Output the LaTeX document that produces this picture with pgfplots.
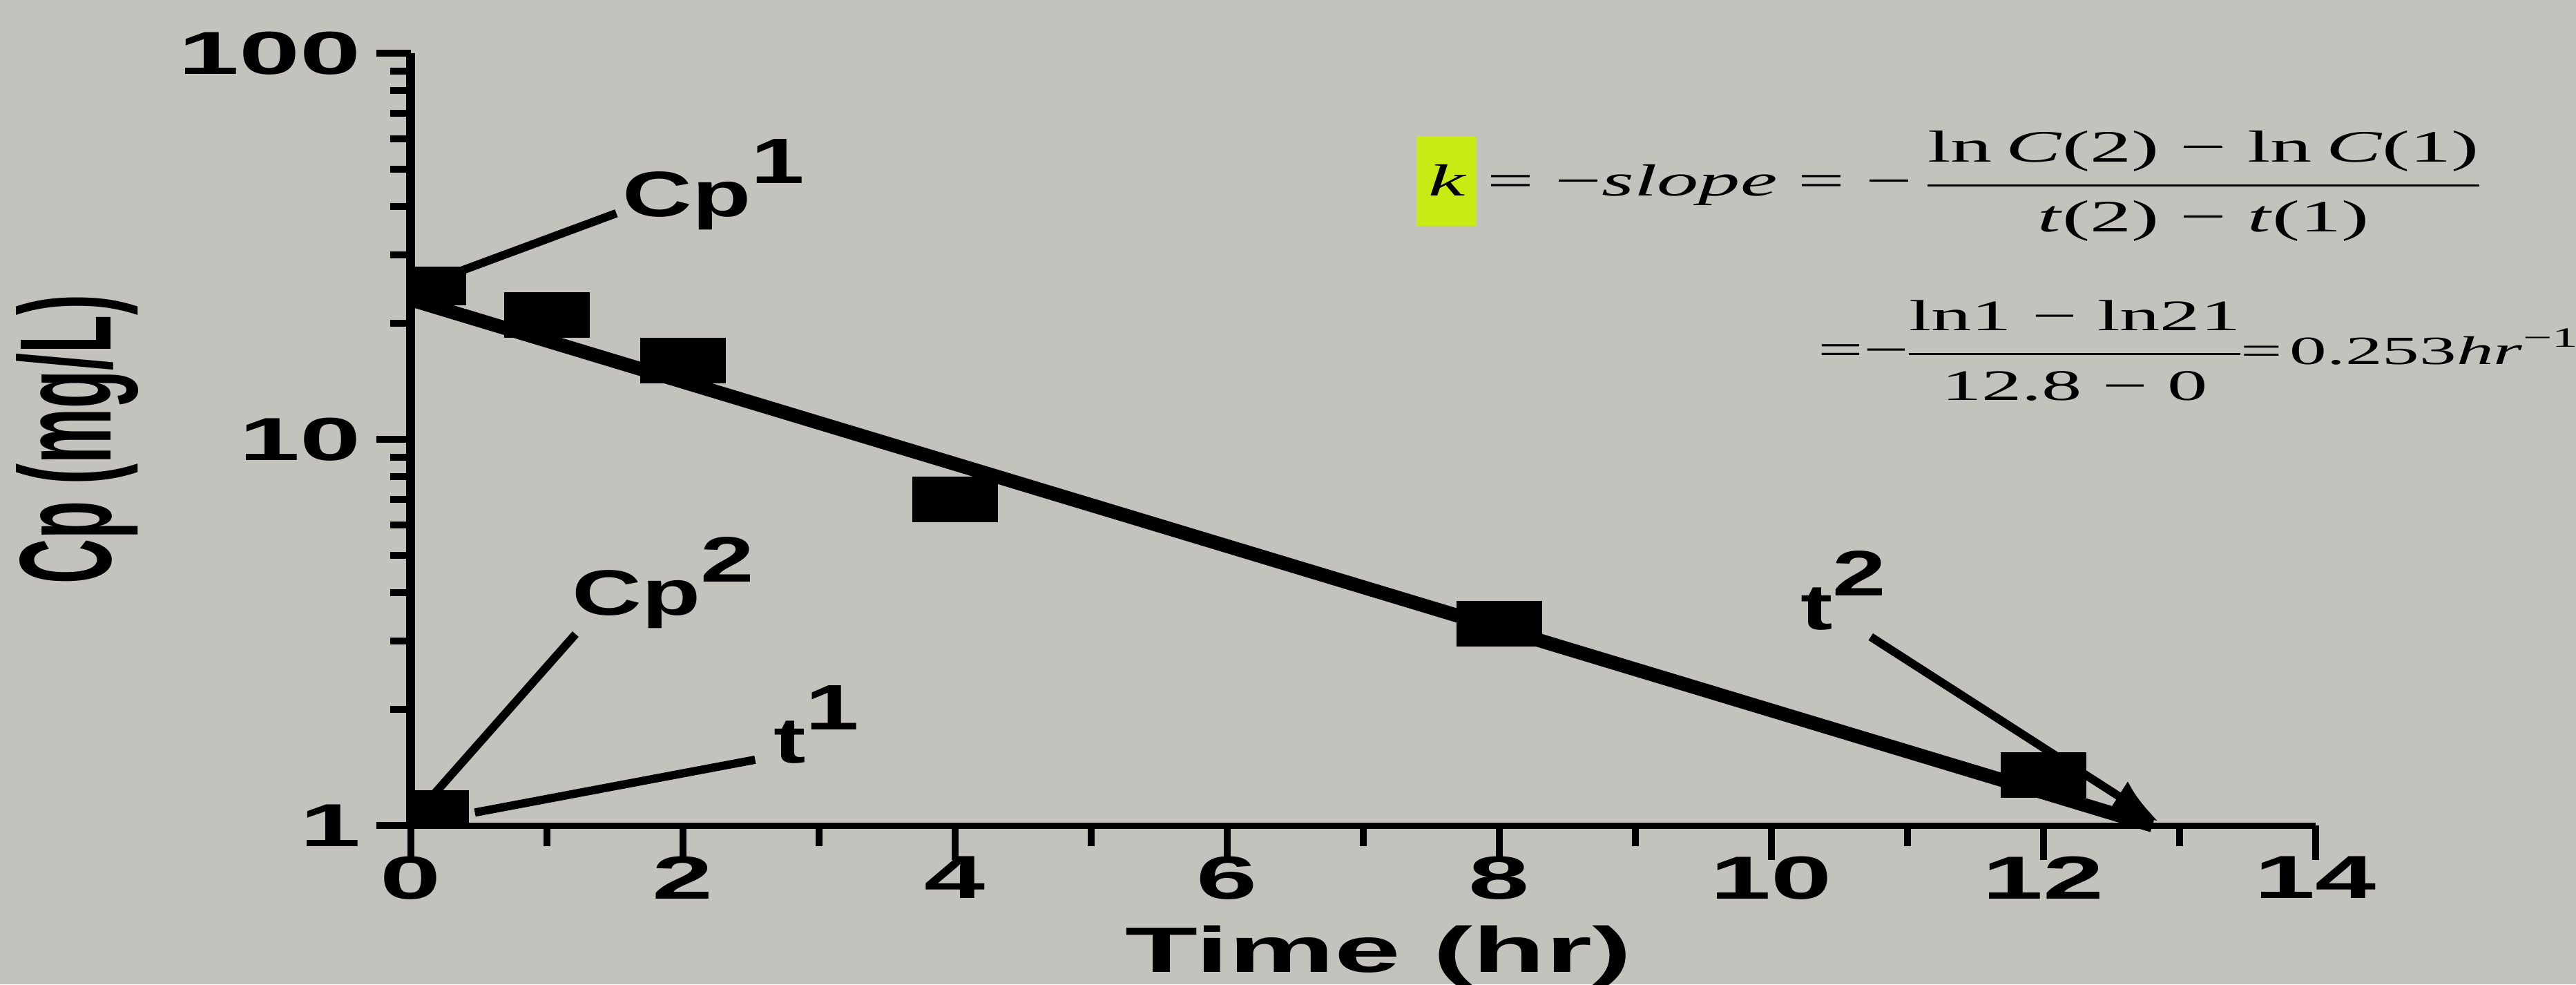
\documentclass[border=0pt]{standalone}
\usepackage{fontspec}
\setmainfont{Liberation Sans}
\newfontfamily\tms{Liberation Serif}
\usepackage{amsmath}
\usepackage{pgfplots}
\pgfplotsset{compat=1.18}
\usetikzlibrary{arrows.meta}

\definecolor{paper}{RGB}{195,194,188}
\definecolor{hl}{RGB}{200,235,20}
\newcommand\supr[1]{\raisebox{0.52em}{#1}}

\begin{document}
\begin{tikzpicture}[
    lab/.style={font=\bfseries\fontsize{9.3}{10}\selectfont, xscale=1.5,
        anchor=base west, inner sep=0pt},
]
\fill[paper] (-59.5pt,-23pt) rectangle (313.5pt,119.5pt);
\begin{axis}[
    scale only axis,
    width=275.8pt, height=111.8pt,
    at={(0,0)}, anchor=south west,
    ymode=log,
    xmin=0, xmax=14, ymin=1, ymax=100,
    axis lines*=left,
    x axis line style={line width=0.9pt, -},
    y axis line style={line width=1.3pt, -},
    xtick={0,2,...,14}, minor x tick num=1,
    ytick={1,10,100}, yticklabels={1,10,100},
    tick align=outside,
    major tick length=5pt, minor tick length=3pt,
    every tick/.style={black, line width=1pt},
    /pgf/number format/assume math mode=true,
    ticklabel style={font=\bfseries\fontsize{8.8}{9}\selectfont, xscale=1.8},
    xticklabel style={yshift=4pt},
    yticklabel style={xshift=2.3pt},
    xlabel={Time (hr)},
    xlabel style={font=\bfseries\fontsize{9.3}{10}\selectfont, xscale=1.85,
        at={(axis description cs:0.508,-0.19)}, anchor=base},
    ylabel={Cp (mg/L)},
    ylabel style={font=\bfseries\fontsize{9}{9}\selectfont, yscale=2.1,
        at={(axis description cs:-0.175,0.50)}, anchor=center},
    clip=false,
]
    % fitted line
    \addplot[black, line width=2pt, no markers] coordinates {(0,23) (12.8,1)};
    % measured concentrations
    \addplot[only marks, mark=square*, mark size=3.1pt,
        mark options={xscale=1.95, fill=black, draw=black}]
        coordinates {(1,21) (2,16) (4,7.0) (8,3.33) (12,1.35)};
    % points marked at the axis
    \addplot[only marks, mark=square*, mark size=2.6pt,
        mark options={xscale=1.5, fill=black, draw=black}]
        coordinates {(0.2,25) (0.22,1.1)};

    \draw[line width=1.2pt] (axis cs:1.51,38.5) -- (axis cs:0.14,25.5);
    \draw[line width=1.2pt] (axis cs:1.21,3.13) -- (axis cs:0.1,1.13);
    \draw[line width=1.2pt] (axis cs:2.53,1.48) -- (axis cs:0.47,1.08);
    \draw[line width=1.2pt, -{Latex[length=7pt,width=5pt]}]
        (axis cs:10.73,3.08) -- (axis cs:12.85,1.02);

    \node[lab] at (axis cs:1.54,37.7) {Cp\supr{1}};
    \node[lab] at (axis cs:1.17,3.5) {Cp\supr{2}};
    \node[lab] at (axis cs:2.65,1.45) {t\supr{1}};
    \node[lab] at (axis cs:10.2,3.22) {t\supr{2}};

    \fill[hl] (rel axis cs:0.528,0.776) rectangle (rel axis cs:0.559,0.893);
    \node[anchor=west, inner sep=0pt, xscale=1.85, font=\tms\fontsize{6.5}{7}\selectfont]
        at (rel axis cs:0.533,0.828)
        {\textit{k} = −\textit{slope} = −$\dfrac{\hbox{\tms ln\,\textit{C}(2) − ln\,\textit{C}(1)}}{\hbox{\tms\textit{t}(2) − \textit{t}(1)}}$};
    \node[anchor=west, inner sep=0pt, xscale=1.85, font=\tms\fontsize{6.3}{7}\selectfont]
        at (rel axis cs:0.7375,0.615)
        {=−{\nulldelimiterspace=0pt$\dfrac{\hbox{\tms ln1 − ln21}}{\hbox{\tms 12.8 − 0}}$}{\fontsize{5.8}{7}\selectfont=\kern0.6pt0.253\textit{hr}\textsuperscript{−1}}};
\end{axis}
\pgfresetboundingbox
\path[use as bounding box] (-59.5pt,-23pt) rectangle (313.5pt,119.5pt);
\end{tikzpicture}
\end{document}
